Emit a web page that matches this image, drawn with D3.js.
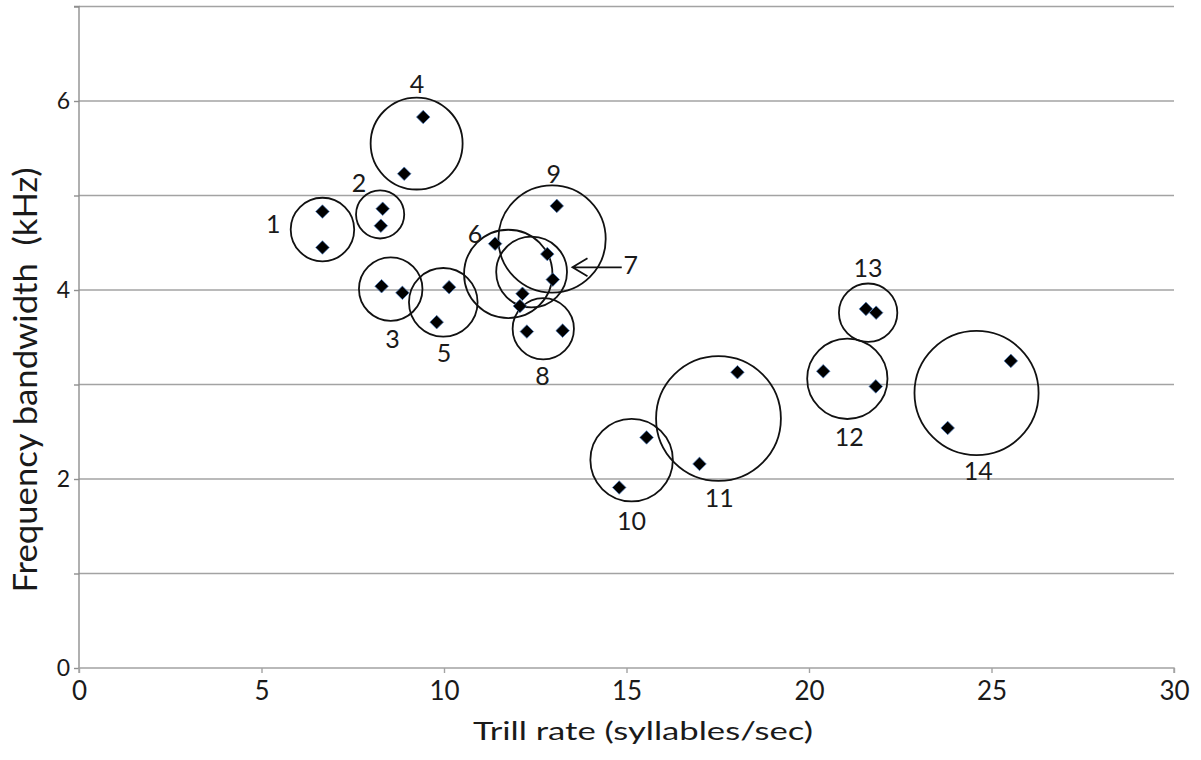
<!DOCTYPE html>
<html>
<head>
<meta charset="utf-8">
<script src="https://cdn.jsdelivr.net/npm/d3@7"></script>
<style>
  html, body { margin: 0; padding: 0; background: #ffffff; }
  svg { display: block; }
  text { font-family: Lato, "Open Sans", sans-serif; fill: #1a1a1a; }
</style>
</head>
<body>
<svg id="chart" width="1201" height="760"></svg>
<script>
// ---------- data ----------
const xTicks = [0, 5, 10, 15, 20, 25, 30];
const yGrid = [0, 1, 2, 3, 4, 5, 6, 7];
const yTickLabels = [0, 2, 4, 6];

// individual measurements (trill rate, bandwidth), two per group
const pointGroup = [1, 1, 2, 2, 3, 3, 4, 4, 5, 5, 6, 6, 7, 7, 8, 8, 9, 9, 10, 10, 11, 11, 12, 12, 13, 13, 14, 14];
const pointRate  = [6.67, 6.67, 8.32, 8.27, 8.29, 8.86, 9.43, 8.91, 10.14, 9.80, 11.40, 12.15, 12.83, 12.98, 12.27, 13.25, 13.09, 12.08, 14.80, 15.55, 18.04, 17.00, 20.39, 21.83, 21.56, 21.84, 25.53, 23.80];
const pointBand  = [4.83, 4.45, 4.86, 4.68, 4.04, 3.97, 5.83, 5.23, 4.03, 3.66, 4.49, 3.96, 4.38, 4.11, 3.56, 3.57, 4.89, 3.83, 1.91, 2.44, 3.13, 2.16, 3.14, 2.98, 3.80, 3.76, 3.25, 2.54];

// group circles: centre (rate, bandwidth) and radius in trill-rate units
const groupId     = [1, 2, 3, 4, 5, 6, 7, 8, 9, 10, 11, 12, 13, 14];
const groupRate   = [6.67, 8.25, 8.54, 9.25, 9.98, 11.76, 12.40, 12.72, 12.96, 15.14, 17.52, 21.05, 21.62, 24.59];
const groupBand   = [4.64, 4.80, 4.01, 5.55, 3.87, 4.17, 4.19, 3.59, 4.54, 2.20, 2.64, 3.06, 3.76, 2.91];
const groupRadius = [0.87, 0.66, 0.87, 1.26, 0.94, 1.21, 0.97, 0.84, 1.47, 1.13, 1.71, 1.10, 0.80, 1.70];

// group number labels (anchor in data units)
const labelRate = [5.32, 7.67, 8.59, 9.26, 10.00, 10.85, 15.12, 12.70, 13.01, 15.14, 17.54, 21.10, 21.62, 24.64];
const labelBand = [4.71, 5.14, 3.49, 6.19, 3.34, 4.60, 4.27, 3.10, 5.24, 1.57, 1.81, 2.45, 4.24, 2.09];

// arrow pointing from label 7 to its circle
const arrowRate = [14.87, 13.52];
const arrowBand = [4.24, 4.24];

const xTitle = "Trill rate (syllables/sec)";
const yTitle = "Frequency bandwidth\u00a0\u00a0(kHz)";

// ---------- drawing ----------
const svg = d3.select("#chart");
const x = d3.scaleLinear().domain([0, 30]).range([79, 1174]);
const y = d3.scaleLinear().domain([0, 7]).range([668, 6.5]);

// gridlines
svg.append("g").selectAll("line").data(yGrid.filter(d => d > 0)).join("line")
  .attr("x1", x(0)).attr("x2", x(30))
  .attr("y1", d => y(d)).attr("y2", d => y(d))
  .attr("stroke", "#a3a3a3").attr("stroke-width", 1.4);

// y axis
const yAxis = d3.axisLeft(y).tickValues(yGrid).tickSize(5).tickPadding(4)
  .tickFormat(d => yTickLabels.includes(d) ? d : "");
const gy = svg.append("g").attr("transform", `translate(${x(0)},0)`).call(yAxis);
gy.select(".domain").attr("stroke", "#8f8f8f").attr("stroke-width", 1.4).attr("d", `M-5,${y(7)}H0V${y(0)}`);
gy.selectAll(".tick line").attr("stroke", "#8f8f8f").attr("stroke-width", 1.4);
gy.selectAll(".tick text").attr("font-family", "Lato, sans-serif").attr("font-size", 23).attr("fill", "#222");

// x axis
const xAxis = d3.axisBottom(x).tickValues(xTicks).tickSize(5).tickPadding(9).tickFormat(d3.format("d"));
const gx = svg.append("g").attr("transform", `translate(0,${y(0)})`).call(xAxis);
gx.select(".domain").attr("stroke", "#a3a3a3").attr("stroke-width", 1.4).attr("d", `M${x(0)},5V0H${x(30)}V5`);
gx.selectAll(".tick line").attr("stroke", "#a3a3a3").attr("stroke-width", 1.4);
gx.selectAll(".tick text").attr("font-family", "Lato, sans-serif").attr("font-size", 26).attr("fill", "#222");

// circles
svg.append("g").selectAll("circle").data(groupId).join("circle")
  .attr("cx", (d, i) => x(groupRate[i]))
  .attr("cy", (d, i) => y(groupBand[i]))
  .attr("r", (d, i) => x(groupRadius[i]) - x(0))
  .attr("fill", "none").attr("stroke", "#111").attr("stroke-width", 1.8);

// diamonds
const diamond = d3.symbol().type(d3.symbolSquare).size(92);
svg.append("g").selectAll("path").data(pointGroup).join("path")
  .attr("d", diamond)
  .attr("transform", (d, i) => `translate(${x(pointRate[i])},${y(pointBand[i])}) rotate(45)`)
  .attr("fill", "#000").attr("stroke", "#4f7fbf").attr("stroke-width", 0.7);

// labels
svg.append("g").selectAll("text").data(groupId).join("text")
  .attr("x", (d, i) => x(labelRate[i]))
  .attr("y", (d, i) => y(labelBand[i]))
  .attr("text-anchor", "middle").attr("dominant-baseline", "central")
  .attr("font-size", 25).attr("fill", "#1a1a1a")
  .text(d => d);

// arrow
const ax0 = x(arrowRate[0]), ax1 = x(arrowRate[1]), ay = y(arrowBand[0]);
svg.append("path")
  .attr("d", `M${ax0},${ay}L${ax1},${ay}M${ax1 + 15},${ay - 9}L${ax1},${ay}L${ax1 + 15},${ay + 9}`)
  .attr("fill", "none").attr("stroke", "#111").attr("stroke-width", 1.8);

// axis titles
svg.append("text").attr("x", 643).attr("y", 740).attr("text-anchor", "middle")
  .attr("font-size", 25).attr("fill", "#1a1a1a")
  .attr("textLength", 340).attr("lengthAdjust", "spacingAndGlyphs")
  .text(xTitle);
svg.append("text").attr("transform", "translate(37,380) rotate(-90)").attr("text-anchor", "middle")
  .attr("font-size", 32).attr("fill", "#1a1a1a")
  .attr("textLength", 425).attr("lengthAdjust", "spacingAndGlyphs")
  .text(yTitle);
</script>
</body>
</html>
